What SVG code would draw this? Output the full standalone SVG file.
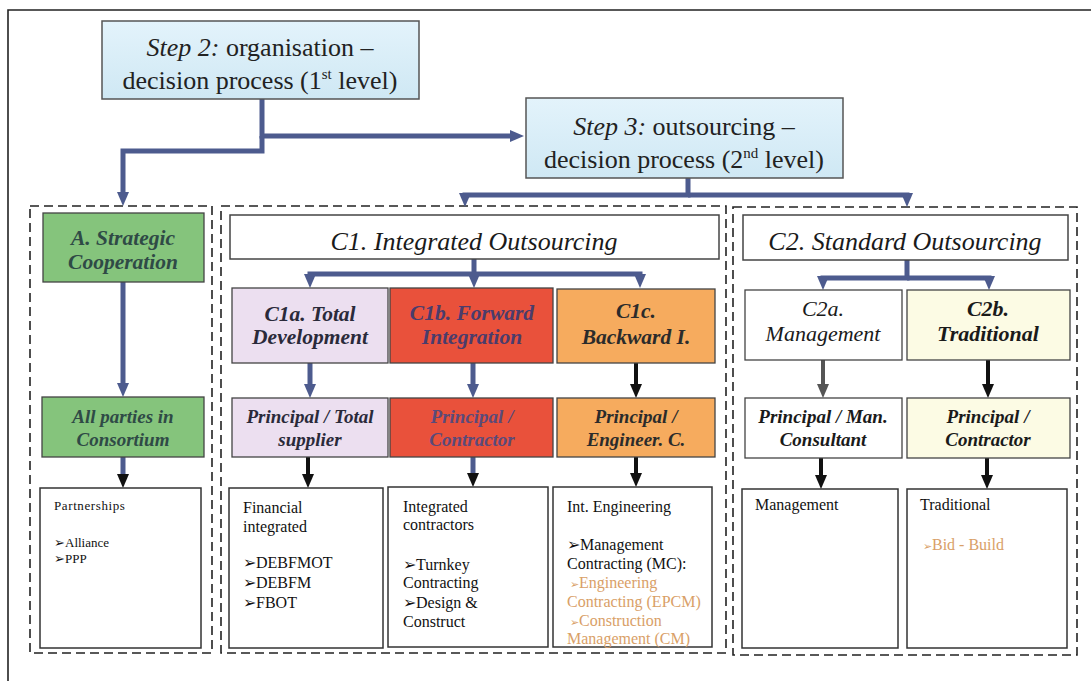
<svg xmlns="http://www.w3.org/2000/svg" width="1091" height="681" viewBox="0 0 1091 681" font-family="'Liberation Serif', 'DejaVu Serif', serif">
  <defs>
    <marker id="ah-blue" viewBox="0 0 14 12" refX="6" refY="6" markerWidth="14" markerHeight="12" markerUnits="userSpaceOnUse" orient="auto">
      <path d="M0,0 L14,6 L0,12 z" fill="#4d5b8e"/>
    </marker>
    <marker id="ah-black" viewBox="0 0 14 12" refX="6" refY="6" markerWidth="14" markerHeight="12" markerUnits="userSpaceOnUse" orient="auto">
      <path d="M0,0 L14,6 L0,12 z" fill="#111"/>
    </marker>
    <marker id="ah-grey" viewBox="0 0 14 12" refX="6" refY="6" markerWidth="14" markerHeight="12" markerUnits="userSpaceOnUse" orient="auto">
      <path d="M0,0 L14,6 L0,12 z" fill="#555"/>
    </marker>
    <linearGradient id="stepfill" x1="0" y1="0" x2="0" y2="1">
      <stop offset="0" stop-color="#e3f3fb"/>
      <stop offset="1" stop-color="#cfe8f4"/>
    </linearGradient>
  </defs>
  <style>
    .frame { fill: none; stroke: #222; stroke-width: 1.6; }
    .group { fill: none; stroke: #222; stroke-width: 1.6; stroke-dasharray: 9 5; }
    .step { fill: url(#stepfill); stroke: #555; stroke-width: 1.5; }
    .hdr { fill: #fff; stroke: #444; stroke-width: 1.5; }
    .box { stroke: #444; stroke-width: 1.3; }
    .list { fill: #fff; stroke: #333; stroke-width: 1.5; }
    .green { fill: #85c47c; }
    .lav { fill: #ecdff0; }
    .red { fill: #e9513b; }
    .orange { fill: #f6ab5e; }
    .yellow { fill: #fcfbe4; }
    .white { fill: #fff; }
    .blue { fill: none; stroke: #4d5b8e; stroke-width: 5; }
    .blk { fill: none; stroke: #111; stroke-width: 4; }
    .gry { fill: none; stroke: #555; stroke-width: 4; }
    text { font-family: "Liberation Serif", "DejaVu Serif", serif; }
    .st { font-size: 26px; fill: #222; text-anchor: middle; }
    .h1 { font-size: 26px; font-style: italic; fill: #1a1a1a; text-anchor: middle; }
    .b1 { font-size: 21.5px; font-style: italic; font-weight: bold; text-anchor: middle; }
    .b2 { font-size: 19px; font-style: italic; font-weight: bold; text-anchor: middle; }
    .i1 { font-size: 22px; font-style: italic; text-anchor: middle; fill: #1a1a1a; }
    .ls { font-size: 16px; fill: #111; }
    .lsm { font-size: 13px; fill: #111; }
    .or { fill: #d9a067; }
  </style>

  <!-- page frame -->
  <path class="frame" d="M8,681 L8,10 L1091,10"/>

  <!-- dashed groupings -->
  <rect id="group-a" class="group" x="30" y="206" width="182" height="447"/>
  <rect id="group-c1" class="group" x="221" y="206" width="505" height="447"/>
  <rect id="group-c2" class="group" x="733" y="207" width="344" height="448"/>

  <g id="connectors">
    <!-- step 2 outputs -->
    <path class="blue" d="M262,99 L262,136 L516,136" marker-end="url(#ah-blue)"/>
    <path class="blue" d="M262,136 L262,151 L123,151 L123,198" marker-end="url(#ah-blue)"/>
    <!-- step 3 outputs -->
    <path class="blue" d="M688,178 L688,195 L465,195 L465,199" marker-end="url(#ah-blue)"/>
    <path class="blue" d="M688,195 L907,195 L907,199" marker-end="url(#ah-blue)"/>
    <!-- strategic column -->
    <path class="blue" d="M123,282 L123,389" marker-end="url(#ah-blue)"/>
    <path class="blue" d="M123,457 L123,480" marker-end="url(#ah-black)"/>
    <!-- C1 split -->
    <path class="blue" d="M474,259 L474,274 L310,274 L310,280" marker-end="url(#ah-blue)"/>
    <path class="blue" d="M474,274 L474,280" marker-end="url(#ah-blue)"/>
    <path class="blue" d="M474,274 L640,274 L640,280" marker-end="url(#ah-blue)"/>
    <path class="blue" d="M310,363 L310,390" marker-end="url(#ah-blue)"/>
    <path class="blue" d="M473,363 L473,390" marker-end="url(#ah-blue)"/>
    <path class="blk" d="M636,363 L636,390" marker-end="url(#ah-black)"/>
    <path class="blk" d="M308,457 L308,480" marker-end="url(#ah-black)"/>
    <path class="blue" d="M473,457 L473,479" marker-end="url(#ah-black)"/>
    <path class="blk" d="M636,457 L636,479" marker-end="url(#ah-black)"/>
    <!-- C2 split -->
    <path class="blue" d="M907,260 L907,278 L823,278 L823,282" marker-end="url(#ah-blue)"/>
    <path class="blue" d="M907,278 L989,278 L989,282" marker-end="url(#ah-blue)"/>
    <path class="gry" d="M823,360 L823,390" marker-end="url(#ah-grey)"/>
    <path class="blk" d="M988,360 L988,390" marker-end="url(#ah-black)"/>
    <path class="blk" d="M821,458 L821,481" marker-end="url(#ah-black)"/>
    <path class="blk" d="M987,458 L987,481" marker-end="url(#ah-black)"/>
  </g>

  <g id="step2">
    <rect class="step" x="102" y="21" width="317" height="78"/>
    <text class="st" x="260" y="56"><tspan font-style="italic">Step 2:</tspan> organisation –</text>
    <text class="st" x="260" y="89">decision process (1<tspan font-size="15" dy="-10">st</tspan><tspan dy="10"> level)</tspan></text>
  </g>

  <g id="step3">
    <rect class="step" x="526" y="98" width="317" height="80"/>
    <text class="st" x="684" y="135"><tspan font-style="italic">Step 3:</tspan> outsourcing –</text>
    <text class="st" x="684" y="168">decision process (2<tspan font-size="15" dy="-10">nd</tspan><tspan dy="10"> level)</tspan></text>
  </g>

  <g id="a-strategic">
    <rect class="box green" x="43" y="213" width="161" height="69"/>
    <text class="b1" x="123" y="245" fill="#2f4a46">A. Strategic</text>
    <text class="b1" x="123" y="269" fill="#2f4a46">Cooperation</text>
  </g>
  <g id="a-consortium">
    <rect class="box green" x="42" y="397" width="162" height="60"/>
    <text class="b2" x="123" y="423" fill="#2f4a46">All parties in</text>
    <text class="b2" x="123" y="446" fill="#2f4a46">Consortium</text>
  </g>
  <g id="a-partnerships">
    <rect class="list" x="40" y="488" width="161" height="160"/>
    <text class="lsm" x="54" y="510" letter-spacing="0.6">Partnerships</text>
    <text class="lsm" x="54" y="547">➢Alliance</text>
    <text class="lsm" x="54" y="563">➢PPP</text>
  </g>

  <g id="c1-header">
    <rect class="hdr" x="230" y="215" width="489" height="44"/>
    <text class="h1" x="474" y="250">C1. Integrated Outsourcing</text>
  </g>
  <g id="c1a">
    <rect class="box lav" x="232" y="288" width="156" height="75"/>
    <text class="b1" x="310" y="321" fill="#2a2a3a">C1a. Total</text>
    <text class="b1" x="310" y="344" fill="#2a2a3a">Development</text>
  </g>
  <g id="c1b">
    <rect class="box red" x="390" y="288" width="163" height="75"/>
    <text class="b1" x="472" y="320" fill="#4a3c6c">C1b. Forward</text>
    <text class="b1" x="472" y="344" fill="#4a3c6c">Integration</text>
  </g>
  <g id="c1c">
    <rect class="box orange" x="557" y="289" width="158" height="74"/>
    <text class="b1" x="636" y="318" fill="#2b2b2b">C1c.</text>
    <text class="b1" x="636" y="344" fill="#2b2b2b">Backward I.</text>
  </g>
  <g id="c1a-party">
    <rect class="box lav" x="232" y="398" width="156" height="59"/>
    <text class="b2" x="310" y="423" fill="#2a2a3a">Principal / Total</text>
    <text class="b2" x="310" y="446" fill="#2a2a3a">supplier</text>
  </g>
  <g id="c1b-party">
    <rect class="box red" x="390" y="398" width="163" height="59"/>
    <text class="b2" x="472" y="423" fill="#5a4a7a">Principal /</text>
    <text class="b2" x="472" y="446" fill="#5a4a7a">Contractor</text>
  </g>
  <g id="c1c-party">
    <rect class="box orange" x="557" y="398" width="158" height="59"/>
    <text class="b2" x="636" y="423" fill="#2b2b2b">Principal /</text>
    <text class="b2" x="636" y="446" fill="#2b2b2b">Engineer. C.</text>
  </g>
  <g id="c1a-list">
    <rect class="list" x="229" y="488" width="154" height="160"/>
    <text class="ls" x="243" y="513">Financial</text>
    <text class="ls" x="243" y="532">integrated</text>
    <text class="ls" x="243" y="568">➢DEBFMOT</text>
    <text class="ls" x="243" y="588">➢DEBFM</text>
    <text class="ls" x="243" y="608">➢FBOT</text>
  </g>
  <g id="c1b-list">
    <rect class="list" x="388" y="487" width="160" height="160"/>
    <text class="ls" x="403" y="512">Integrated</text>
    <text class="ls" x="403" y="530">contractors</text>
    <text class="ls" x="403" y="570">➢Turnkey</text>
    <text class="ls" x="403" y="588">Contracting</text>
    <text class="ls" x="403" y="608">➢Design &amp;</text>
    <text class="ls" x="403" y="627">Construct</text>
  </g>
  <g id="c1c-list">
    <rect class="list" x="553" y="487" width="159" height="160"/>
    <text class="ls" x="567" y="512">Int. Engineering</text>
    <text class="ls" x="567" y="550">➢Management</text>
    <text class="ls" x="567" y="569">Contracting (MC):</text>
    <text class="ls or" x="570" y="588"><tspan font-size="11">➢</tspan>Engineering</text>
    <text class="ls or" x="567" y="607">Contracting (EPCM)</text>
    <text class="ls or" x="570" y="626"><tspan font-size="11">➢</tspan>Construction</text>
    <text class="ls or" x="567" y="644">Management  (CM)</text>
  </g>

  <g id="c2-header">
    <rect class="hdr" x="743" y="215" width="325" height="45"/>
    <text class="h1" x="905" y="250">C2. Standard Outsourcing</text>
  </g>
  <g id="c2a">
    <rect class="box white" x="745" y="290" width="157" height="70"/>
    <text class="i1" x="823" y="316">C2a.</text>
    <text class="i1" x="823" y="341">Management</text>
  </g>
  <g id="c2b">
    <rect class="box yellow" x="907" y="290" width="163" height="70"/>
    <text class="i1" x="988" y="316" font-weight="bold">C2b.</text>
    <text class="i1" x="988" y="341" font-weight="bold">Traditional</text>
  </g>
  <g id="c2a-party">
    <rect class="box white" x="745" y="398" width="157" height="60"/>
    <text class="b2" x="823" y="423" fill="#1a1a1a">Principal / Man.</text>
    <text class="b2" x="823" y="446" fill="#1a1a1a">Consultant</text>
  </g>
  <g id="c2b-party">
    <rect class="box yellow" x="907" y="398" width="163" height="60"/>
    <text class="b2" x="988" y="423" fill="#1a1a1a">Principal /</text>
    <text class="b2" x="988" y="446" fill="#1a1a1a">Contractor</text>
  </g>
  <g id="c2a-list">
    <rect class="list" x="742" y="489" width="156" height="159"/>
    <text class="ls" x="755" y="510">Management</text>
  </g>
  <g id="c2b-list">
    <rect class="list" x="907" y="489" width="160" height="159"/>
    <text class="ls" x="920" y="510">Traditional</text>
    <text class="ls or" x="923" y="550"><tspan font-size="11">➢</tspan>Bid - Build</text>
  </g>
</svg>
